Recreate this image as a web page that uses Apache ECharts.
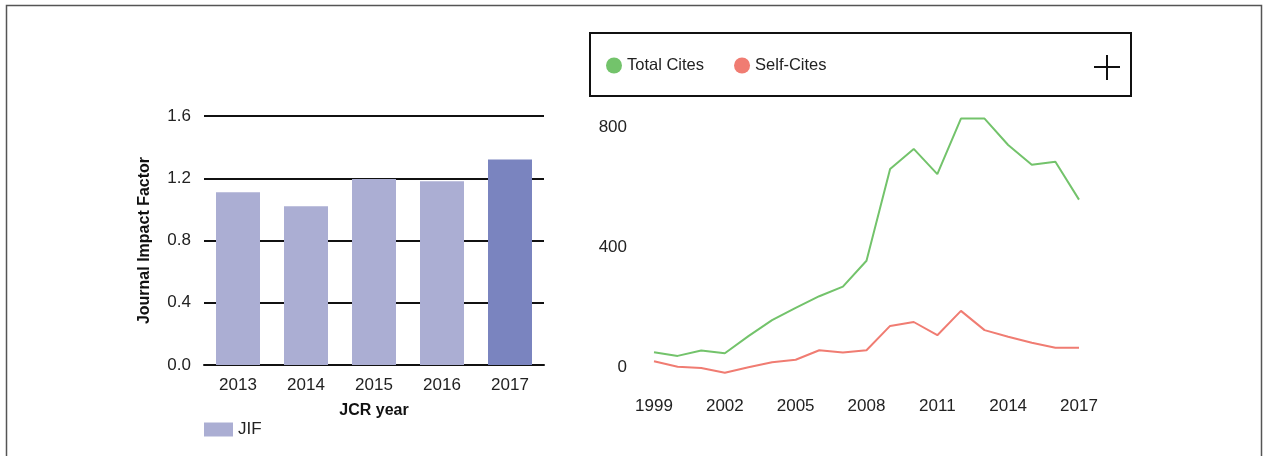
<!DOCTYPE html>
<html>
<head>
<meta charset="utf-8">
<script src="https://cdn.jsdelivr.net/npm/echarts@6/dist/echarts.min.js"></script>
<style>
  html, body { margin: 0; padding: 0; background: #fff; }
  #main { width: 1267px; height: 456px; }
</style>
</head>
<body>
<div id="main"></div>
<script>
// JIF bars
var jcrYears = ["2013", "2014", "2015", "2016", "2017"];
var jifValues = [1.11, 1.02, 1.195, 1.18, 1.32];

// cites lines
var citeYears = ["1999", "2000", "2001", "2002", "2003", "2004", "2005", "2006", "2007", "2008",
  "2009", "2010", "2011", "2012", "2013", "2014", "2015", "2016", "2017"];
var totalCites = [49, 37, 55, 46, 103, 156, 197, 236, 268, 354, 660, 727, 643, 828, 828, 740, 674, 684, 558];
var selfCites = [19, 1, -3, -19, -1, 16, 24, 56, 48, 56, 137, 150, 106, 187, 123, 101, 81, 64, 64];

var FONT = "'Liberation Sans Narrow', 'Arial Narrow', 'Liberation Sans', sans-serif";
var myChart = echarts.init(document.getElementById("main"));

var option = {
  animation: false,
  textStyle: { fontFamily: FONT },
  grid: [
    { left: 204, top: 116, width: 340, height: 249 },
    { left: 654, top: 127, width: 425, height: 240 }
  ],
  legend: [
    {
      data: ["JIF"],
      left: 204,
      top: 421,
      padding: 0,
      icon: "rect",
      itemWidth: 29,
      itemHeight: 14,
      textStyle: { fontFamily: FONT, fontSize: 17, color: "#222" }
    },
    {
      data: ["Total Cites", "Self-Cites"],
      left: 606,
      top: 57,
      padding: 0,
      icon: "circle",
      itemWidth: 16,
      itemHeight: 18,
      itemGap: 30,
      textStyle: { fontFamily: FONT, fontSize: 16.5, color: "#222" }
    }
  ],
  xAxis: [
    {
      type: "category",
      gridIndex: 0,
      data: jcrYears,
      axisTick: { show: false },
      axisLine: { lineStyle: { color: "#111", width: 2 } },
      axisLabel: { fontFamily: FONT, fontSize: 17, color: "#222", margin: 12 },
      name: "JCR year",
      nameLocation: "middle",
      nameGap: 38,
      nameTextStyle: { fontFamily: FONT, fontSize: 16, fontWeight: "bold", color: "#111" }
    },
    {
      type: "category",
      gridIndex: 1,
      data: citeYears,
      boundaryGap: false,
      axisTick: { show: false },
      axisLine: { show: false },
      axisLabel: { fontFamily: FONT, fontSize: 17, color: "#222", margin: 31, interval: 2 }
    }
  ],
  yAxis: [
    {
      type: "value",
      gridIndex: 0,
      min: 0,
      max: 1.6,
      interval: 0.4,
      axisLine: { show: false },
      axisTick: { show: false },
      splitLine: { lineStyle: { color: "#111", width: 2 } },
      axisLabel: {
        fontFamily: FONT, fontSize: 17, color: "#222", margin: 13,
        formatter: function (v) { return v.toFixed(1); }
      },
      name: "Journal Impact Factor",
      nameLocation: "middle",
      nameGap: 51,
      nameTextStyle: { fontFamily: FONT, fontSize: 16, fontWeight: "bold", color: "#111" }
    },
    {
      type: "value",
      gridIndex: 1,
      min: 0,
      max: 800,
      interval: 400,
      axisLine: { show: false },
      axisTick: { show: false },
      splitLine: { show: false },
      axisLabel: { fontFamily: FONT, fontSize: 17, color: "#222", margin: 27 }
    }
  ],
  series: [
    {
      name: "JIF",
      type: "bar",
      xAxisIndex: 0,
      yAxisIndex: 0,
      barWidth: 44,
      itemStyle: { color: "#abaed3" },
      data: jifValues.map(function (v, i) {
        return i === jifValues.length - 1 ? { value: v, itemStyle: { color: "#7a84bf" } } : v;
      })
    },
    {
      name: "Total Cites",
      type: "line",
      xAxisIndex: 1,
      yAxisIndex: 1,
      showSymbol: false,
      clip: false,
      itemStyle: { color: "#73c36b" },
      lineStyle: { color: "#73c36b", width: 2 },
      data: totalCites
    },
    {
      name: "Self-Cites",
      type: "line",
      xAxisIndex: 1,
      yAxisIndex: 1,
      showSymbol: false,
      clip: false,
      itemStyle: { color: "#f07c72" },
      lineStyle: { color: "#f07c72", width: 2 },
      data: selfCites
    }
  ],
  graphic: [
    {
      type: "rect",
      shape: { x: 6.5, y: 5.5, width: 1255, height: 480 },
      style: { fill: null, stroke: "#555", lineWidth: 1.5 },
      silent: true
    },
    {
      type: "rect",
      shape: { x: 590, y: 33, width: 541, height: 63 },
      style: { fill: null, stroke: "#111", lineWidth: 2 },
      silent: true
    },
    {
      type: "line",
      shape: { x1: 1094, y1: 67, x2: 1120, y2: 67 },
      style: { stroke: "#111", lineWidth: 2 },
      silent: true
    },
    {
      type: "line",
      shape: { x1: 1107, y1: 55, x2: 1107, y2: 80 },
      style: { stroke: "#111", lineWidth: 2 },
      silent: true
    }
  ]
};

option && myChart.setOption(option);
</script>
</body>
</html>
